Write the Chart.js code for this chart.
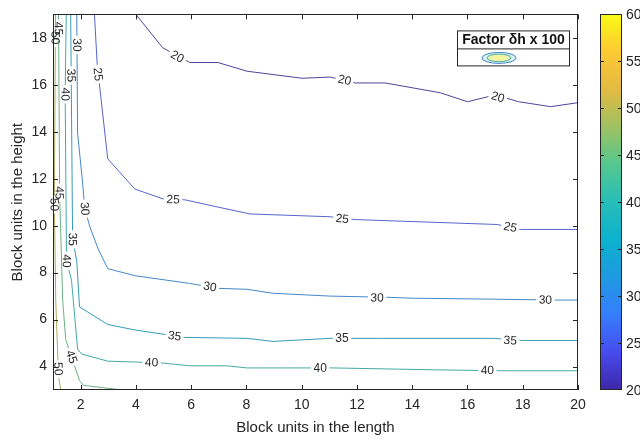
<!DOCTYPE html>
<html>
<head>
<meta charset="utf-8">
<script src="https://cdn.jsdelivr.net/npm/chart.js@4.4.1/dist/chart.umd.min.js"></script>
<style>
html,body{margin:0;padding:0;background:#fff;}
#wrap{width:640px;height:441px;position:relative;}
</style>
</head>
<body>
<div id="wrap"><canvas id="c" width="640" height="441"></canvas></div>
<script>
// ---------- data ----------
const levels = [20, 25, 30, 35, 40, 45, 50];

const c20x = [4.0, 4.97, 5.95, 6.97, 8.02, 10.01, 11.03, 11.94, 13.02, 15.02, 16.0, 17.01, 17.85, 19.01, 20.0];
const c20y = [19.0, 17.58, 16.95, 16.95, 16.58, 16.28, 16.33, 16.08, 16.08, 15.66, 15.28, 15.57, 15.28, 15.07, 15.24];
const c25x = [2.5, 2.6, 2.98, 3.96, 4.99, 5.78, 6.94, 8.13, 11.03, 11.93, 17.08, 17.92, 20.0];
const c25y = [19.0, 16.87, 12.85, 11.56, 11.14, 11.1, 10.8, 10.5, 10.38, 10.26, 10.05, 9.84, 9.84];
const c30x = [1.86, 1.89, 2.07, 2.15, 2.33, 2.62, 2.98, 3.96, 5.95, 6.97, 8.02, 8.96, 11.03, 13.09, 14.03, 16.93, 19.25, 20.0];
const c30y = [19.0, 13.94, 11.85, 10.72, 9.97, 9.05, 8.17, 7.87, 7.54, 7.33, 7.29, 7.12, 7.0, 6.95, 6.91, 6.87, 6.83, 6.83];
const c35x = [1.64, 1.71, 1.86, 1.96, 2.98, 4.0, 5.77, 8.02, 8.96, 11.03, 12.95, 16.93, 17.98, 20.0];
const c35y = [19.0, 9.42, 8.5, 6.54, 5.79, 5.55, 5.24, 5.2, 5.07, 5.2, 5.2, 5.2, 5.11, 5.11];
const c40x = [1.48, 1.44, 1.49, 1.67, 1.89, 2.04, 2.98, 4.97, 5.95, 7.29, 8.02, 9.94, 11.14, 14.77, 17.2, 20.0];
const c40y = [19.0, 15.6, 8.5, 7.67, 4.74, 4.53, 4.23, 4.15, 4.03, 4.03, 3.94, 3.94, 3.94, 3.86, 3.82, 3.82];
const c45x = [1.2, 1.24, 1.35, 1.46, 1.96, 2.1, 3.5];
const c45y = [19.0, 11.35, 6.83, 5.15, 3.4, 3.2, 3.0];
const c50x = [1.09, 1.05, 1.1, 1.2, 1.28];
const c50y = [19.0, 11.0, 6.8, 3.6, 3.0];

// contour label anchor points (data units)
const lab20x = [5.5, 11.55, 17.1];
const lab20y = [17.2, 16.2, 15.48];
const lab25x = [2.63, 5.35, 11.47, 17.55];
const lab25y = [16.45, 11.12, 10.3, 9.94];
const lab30x = [1.87, 2.15, 6.68, 12.73, 18.82];
const lab30y = [17.7, 10.72, 7.4, 6.93, 6.84];
const lab35x = [1.66, 1.71, 5.4, 11.46, 17.55];
const lab35y = [16.4, 9.42, 5.3, 5.2, 5.11];
const lab40x = [1.45, 1.49, 4.57, 10.67, 16.72];
const lab40y = [15.6, 8.5, 4.17, 3.94, 3.84];
const lab45x = [1.2, 1.23, 1.67];
const lab45y = [18.4, 11.4, 4.41];
const lab50x = [1.08, 1.05, 1.19];
const lab50y = [18.0, 10.9, 3.9];

const xTickValues = [2, 4, 6, 8, 10, 12, 14, 16, 18, 20];
const yTickValues = [4, 6, 8, 10, 12, 14, 16, 18];
const cbTickValues = [20, 25, 30, 35, 40, 45, 50, 55, 60];
const legendTitle = 'Factor δh x 100';
const xTitle = 'Block units in the length';
const yTitle = 'Block units in the height';

// ---------- helpers ----------
const contourX = [c20x, c25x, c30x, c35x, c40x, c45x, c50x];
const contourY = [c20y, c25y, c30y, c35y, c40y, c45y, c50y];
const labelX = [lab20x, lab25x, lab30x, lab35x, lab40x, lab45x, lab50x];
const labelY = [lab20y, lab25y, lab30y, lab35y, lab40y, lab45y, lab50y];

const FONT = '"Liberation Sans", Arial, Helvetica, sans-serif';
const LABEL_FONT = '12px ' + FONT;
const AXIS_COLOR = '#262626';

// parula colormap stops
const parulaStops = [
  [0.00, [0.2422, 0.1504, 0.6603]],
  [0.10, [0.2773, 0.2946, 0.9325]],
  [0.20, [0.2106, 0.4900, 0.9918]],
  [0.30, [0.1197, 0.6025, 0.8807]],
  [0.40, [0.0460, 0.6935, 0.8110]],
  [0.50, [0.1540, 0.7439, 0.7199]],
  [0.60, [0.3282, 0.7809, 0.5626]],
  [0.70, [0.6180, 0.7602, 0.3820]],
  [0.80, [0.8890, 0.7276, 0.2620]],
  [0.90, [0.9934, 0.7865, 0.1990]],
  [1.00, [0.9769, 0.9839, 0.0805]]
];
function parulaRGB(t){
  t = Math.max(0, Math.min(1, t));
  for (let i = 0; i < parulaStops.length - 1; i++){
    const [t0, c0] = parulaStops[i], [t1, c1] = parulaStops[i+1];
    if (t <= t1){
      const f = (t - t0) / (t1 - t0);
      return c0.map((v, k) => v + (c1[k] - v) * f);
    }
  }
  return parulaStops[parulaStops.length-1][1];
}
function rgb(c){ return 'rgb(' + c.map(v => Math.round(Math.max(0, Math.min(1, v))*255)).join(',') + ')'; }
function parula(t){ return rgb(parulaRGB(t)); }
// muted line colour: parula blended toward grey (thin anti-aliased lines in the original)
function lineColor(t){ return rgb(parulaRGB(t).map(v => v * 0.68 + 0.5 * 0.32)); }
const CMIN = 20, CMAX = 60;

function segDist(x, y, x1, y1, x2, y2){
  const dx = x2 - x1, dy = y2 - y1;
  const L = dx*dx + dy*dy;
  let t = L ? ((x - x1)*dx + (y - y1)*dy) / L : 0;
  t = Math.max(0, Math.min(1, t));
  const qx = x1 + t*dx, qy = y1 + t*dy;
  return Math.hypot(x - qx, y - qy);
}

function labelGeom(chart, di){
  const sx = chart.scales.x, sy = chart.scales.y;
  const px = contourX[di].map(v => sx.getPixelForValue(v));
  const py = contourY[di].map(v => sy.getPixelForValue(v));
  const ctx = chart.ctx;
  ctx.save(); ctx.font = LABEL_FONT;
  const w = ctx.measureText(String(levels[di])).width;
  ctx.restore();
  return labelX[di].map((lx, k) => {
    const x = sx.getPixelForValue(lx), y = sy.getPixelForValue(labelY[di][k]);
    let best = Infinity, ang = 0;
    for (let i = 0; i < px.length - 1; i++){
      const d = segDist(x, y, px[i], py[i], px[i+1], py[i+1]);
      if (d < best){ best = d; ang = Math.atan2(py[i+1] - py[i], px[i+1] - px[i]); }
    }
    const hi = 100 * Math.PI / 180, lo = -80 * Math.PI / 180;
    while (ang > hi) ang -= Math.PI;
    while (ang <= lo) ang += Math.PI;
    return { x, y, ang, w };
  });
}

const contourPlugin = {
  id: 'contourLabels',
  beforeDatasetDraw(chart, args){
    const ctx = chart.ctx, a = chart.chartArea;
    ctx.save();
    ctx.beginPath();
    ctx.rect(a.left - 20, a.top - 20, a.width + 40, a.height + 40);
    labelGeom(chart, args.index).forEach(g => {
      const hw = g.w/2 + 2.5, hh = 5;
      const c = Math.cos(g.ang), s = Math.sin(g.ang);
      const pts = [[-hw,-hh],[hw,-hh],[hw,hh],[-hw,hh]].map(([u,v]) => [g.x + u*c - v*s, g.y + u*s + v*c]);
      ctx.moveTo(pts[0][0], pts[0][1]);
      for (let i = 1; i < 4; i++) ctx.lineTo(pts[i][0], pts[i][1]);
      ctx.closePath();
    });
    ctx.clip('evenodd');
  },
  afterDatasetDraw(chart){
    chart.ctx.restore();
  },
  afterDatasetsDraw(chart){
    const ctx = chart.ctx;
    levels.forEach((lv, di) => {
      labelGeom(chart, di).forEach(g => {
        ctx.save();
        ctx.translate(g.x, g.y);
        ctx.rotate(g.ang);
        ctx.font = LABEL_FONT;
        ctx.fillStyle = '#2a2a2a';
        ctx.textAlign = 'center';
        ctx.textBaseline = 'middle';
        ctx.fillText(String(lv), 0, 0.5);
        ctx.restore();
      });
    });
  }
};

const framePlugin = {
  id: 'frameTicks',
  afterDraw(chart){
    const ctx = chart.ctx, a = chart.chartArea;
    const sx = chart.scales.x, sy = chart.scales.y;
    ctx.save();
    ctx.strokeStyle = AXIS_COLOR;
    ctx.lineWidth = 1;
    ctx.strokeRect(Math.round(a.left) + 0.5, Math.round(a.top) + 0.5, Math.round(a.width) - 1, Math.round(a.height) - 1);
    const tl = 5;
    ctx.beginPath();
    xTickValues.forEach(v => {
      const p = Math.round(sx.getPixelForValue(v)) + 0.5;
      ctx.moveTo(p, a.bottom); ctx.lineTo(p, a.bottom - tl);
      ctx.moveTo(p, a.top); ctx.lineTo(p, a.top + tl);
    });
    yTickValues.forEach(v => {
      const p = Math.round(sy.getPixelForValue(v)) + 0.5;
      ctx.moveTo(a.left, p); ctx.lineTo(a.left + tl, p);
      ctx.moveTo(a.right, p); ctx.lineTo(a.right - tl, p);
    });
    ctx.stroke();

    // colorbar
    const cb = chart.scales.cb;
    const x0 = a.right + 22, w = 22;
    const yTop = cb.getPixelForValue(CMAX), yBot = cb.getPixelForValue(CMIN);
    const grad = ctx.createLinearGradient(0, yBot, 0, yTop);
    for (let i = 0; i <= 40; i++){ grad.addColorStop(i/40, parula(i/40)); }
    ctx.fillStyle = grad;
    ctx.fillRect(x0, yTop, w, yBot - yTop);
    ctx.strokeStyle = AXIS_COLOR;
    ctx.strokeRect(x0 + 0.5, Math.round(yTop) + 0.5, w - 1, Math.round(yBot - yTop) - 1);
    ctx.beginPath();
    cbTickValues.forEach(v => {
      const p = Math.round(cb.getPixelForValue(v)) + 0.5;
      if (v !== CMIN && v !== CMAX){
        ctx.moveTo(x0 + w, p); ctx.lineTo(x0 + w - 4, p);
        ctx.moveTo(x0, p); ctx.lineTo(x0 + 4, p);
      }
    });
    ctx.stroke();
    ctx.fillStyle = AXIS_COLOR;
    ctx.font = '14px ' + FONT;
    ctx.textAlign = 'left';
    ctx.textBaseline = 'middle';
    cbTickValues.forEach(v => {
      ctx.fillText(String(v), x0 + w + 4, cb.getPixelForValue(v) + 1);
    });

    // legend box
    const lx0 = a.right - 121, lx1 = a.right - 9, ly0 = a.top + 16, ly1 = a.top + 51, lsep = a.top + 34;
    ctx.fillStyle = '#fff';
    ctx.fillRect(lx0, ly0, lx1 - lx0, ly1 - ly0);
    ctx.strokeStyle = AXIS_COLOR;
    ctx.strokeRect(lx0 + 0.5, ly0 + 0.5, lx1 - lx0, ly1 - ly0);
    ctx.beginPath();
    ctx.moveTo(lx0, lsep + 0.5); ctx.lineTo(lx1, lsep + 0.5);
    ctx.stroke();
    ctx.fillStyle = '#111';
    ctx.font = 'bold 14px ' + FONT;
    ctx.textAlign = 'center';
    ctx.textBaseline = 'middle';
    ctx.fillText(legendTitle, (lx0 + lx1) / 2 + 0.5, (ly0 + lsep) / 2 + 1);
    // icon
    const icx = lx0 + 42, icy = (lsep + ly1) / 2 + 1;
    ctx.lineWidth = 1;
    ctx.beginPath(); ctx.ellipse(icx, icy, 17, 5.5, 0, 0, Math.PI*2);
    ctx.fillStyle = '#d9f0f4'; ctx.fill();
    ctx.strokeStyle = lineColor(0.25); ctx.stroke();
    ctx.beginPath(); ctx.ellipse(icx, icy, 12, 3.8, 0, 0, Math.PI*2);
    ctx.fillStyle = '#e9f4b4'; ctx.fill();
    ctx.strokeStyle = lineColor(0.55); ctx.stroke();
    ctx.beginPath(); ctx.ellipse(icx, icy, 7, 2.2, 0, 0, Math.PI*2);
    ctx.fillStyle = '#f7f59a'; ctx.fill();
    ctx.restore();
  }
};

const datasets = levels.map((lv, di) => ({
  label: String(lv),
  data: contourX[di].map((x, i) => ({ x: x, y: contourY[di][i] })),
  showLine: true,
  borderColor: lineColor((lv - CMIN) / (CMAX - CMIN)),
  borderWidth: 1,
  pointRadius: 0,
  tension: 0,
  fill: false
}));

new Chart(document.getElementById('c'), {
  type: 'scatter',
  data: { datasets },
  options: {
    responsive: false,
    animation: false,
    devicePixelRatio: 1,
    layout: { padding: { left: 0, right: 62, top: 9, bottom: 0 } },
    plugins: { legend: { display: false }, tooltip: { enabled: false } },
    scales: {
      x: {
        type: 'linear', position: 'bottom', min: 1, max: 20,
        afterBuildTicks: s => { s.ticks = xTickValues.map(v => ({ value: v })); },
        afterFit: s => { s.height = 51; },
        grid: { display: false, drawTicks: false },
        border: { display: false },
        ticks: { font: { family: FONT, size: 14 }, color: AXIS_COLOR, padding: 7, maxRotation: 0, autoSkip: false },
        title: { display: true, text: xTitle, font: { family: FONT, size: 15 }, color: AXIS_COLOR, padding: { top: 0, bottom: 4 } }
      },
      y: {
        type: 'linear', position: 'left', min: 3, max: 19,
        afterBuildTicks: s => { s.ticks = yTickValues.map(v => ({ value: v })); },
        afterFit: s => { s.width = 53; },
        grid: { display: false, drawTicks: false },
        border: { display: false },
        ticks: { font: { family: FONT, size: 14 }, color: AXIS_COLOR, padding: 6, autoSkip: false },
        title: { display: true, text: yTitle, font: { family: FONT, size: 15 }, color: AXIS_COLOR, padding: { top: 9, bottom: 0 } }
      },
      cb: { type: 'linear', axis: 'y', position: 'right', min: CMIN, max: CMAX, display: false }
    }
  },
  plugins: [contourPlugin, framePlugin]
});
</script>
</body>
</html>
